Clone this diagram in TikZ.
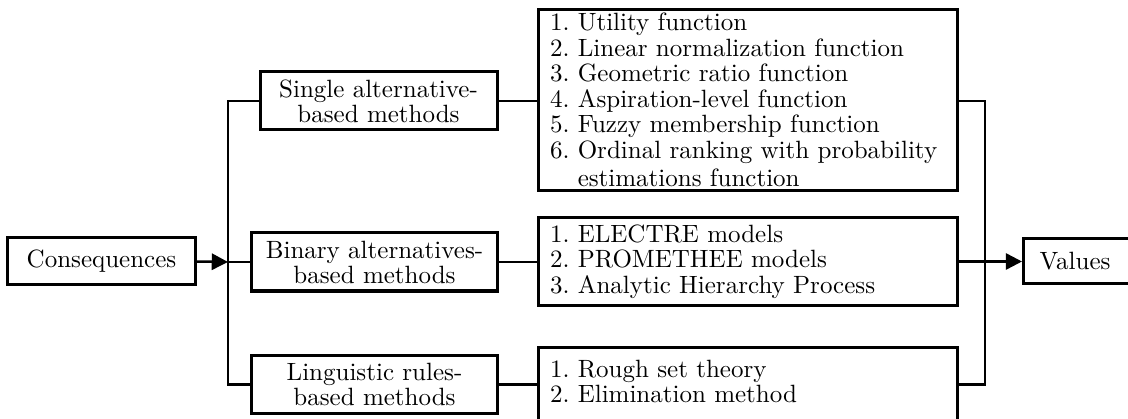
\documentclass[tikz,border=0pt]{standalone}
\usepackage{amsmath}
\usepackage{xcolor}
\usepackage{tikz}
\usetikzlibrary{arrows.meta}
\frenchspacing

\begin{document}
\begin{tikzpicture}[x=0.4pt,y=-0.4pt,
  box/.style={draw=black, line width=1.2pt, inner sep=0pt},
  methodbox/.style={box, align=center, font=\fontsize{10}{8}\selectfont, minimum height=23.2pt},
  listbox/.style={box, align=left, inner xsep=4.8pt, text width=158pt, font=\fontsize{10}{10.2}\selectfont},
  conn/.style={black, line width=1pt},
  arr/.style={conn, -{Triangle[length=6.5pt,width=6.5pt]}}]
\clip (0,0) rectangle (1128,419);
\node[box, minimum width=74.8pt, minimum height=18.8pt] (cons) at (101.5,261.5) {Consequences};
\node[methodbox, minimum width=94.8pt] (single) at (378.5,101) {Single alternative-\\based methods};
\node[methodbox, minimum width=98pt] (binary) at (374.5,262) {Binary alternatives-\\based methods};
\node[methodbox, minimum width=98pt, minimum height=22.8pt] (ling) at (374.5,384.5) {Linguistic rules-\\based methods};
\node[listbox, minimum height=72.4pt] (funcs) at (747.5,100) {1. Utility function\\2. Linear normalization function\\3. Geometric ratio function\\4. Aspiration-level function\\5. Fuzzy membership function\\6. Ordinal ranking with probability\\[1pt]\phantom{6. }estimations function};
\node[listbox, minimum height=34.8pt] (models) at (747.5,261.5) {1. ELECTRE models\\2. PROMETHEE models\\3. Analytic Hierarchy Process};
\node[listbox, minimum height=36.8pt] (rules) at (747.5,394) {1. Rough set theory\\2. Elimination method\\\mbox{}};
\node[box, anchor=west, align=left, inner xsep=6.4pt, text width=40pt, minimum height=18pt] (values) at (1022,261.5) {Values};
\coordinate (split) at (228,262);
\coordinate (merge) at (985,262);
% left side
\draw[arr] (cons.east) -- (split);
\draw[conn] (single.west) -| (split) -- (binary.west);
\draw[conn] (ling.west) -| (split);
\draw[conn] (single.east) -- (single.east -| funcs.west);
\draw[conn] (binary.east) -- (binary.east -| models.west);
\draw[conn] (ling.east) -- (ling.east -| rules.west);
% right side
\draw[conn] (single.east -| funcs.east) -| (merge);
\draw[conn] (ling.east -| rules.east) -| (merge);
\draw[arr] (models.east) -- (values.west);
\end{tikzpicture}
\end{document}
